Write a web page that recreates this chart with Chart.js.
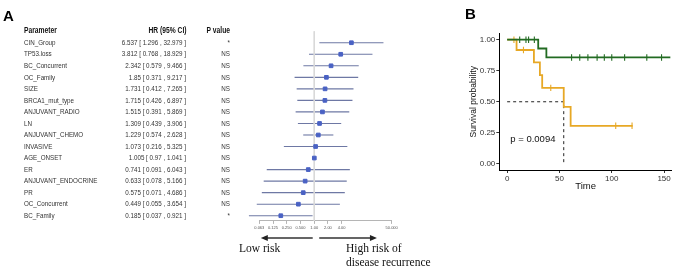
<!DOCTYPE html>
<html>
<head>
<meta charset="utf-8">
<script src="https://cdn.jsdelivr.net/npm/chart.js@4.4.0/dist/chart.umd.min.js"></script>
<style>
html, body { margin:0; padding:0; background:#fff; }
#wrap { position:relative; width:677px; height:267px; overflow:hidden; background:#fff; }
#forest { position:absolute; left:0; top:0; }
#km { position:absolute; left:462px; top:0; }
</style>
</head>
<body>
<div id="wrap">
<canvas id="forest" width="462" height="267"></canvas>
<canvas id="km" width="215" height="267"></canvas>
</div>
<script>
// Panel A - forest plot data
const params = ['CIN_Group', 'TP53.loss', 'BC_Concurrent', 'OC_Family', 'SIZE', 'BRCA1_mut_type', 'ANJUVANT_RADIO', 'LN',
    'ANJUVANT_CHEMO', 'INVASIVE', 'AGE_ONSET', 'ER', 'ANJUVANT_ENDOCRINE', 'PR', 'OC_Concurrent', 'BC_Family'];
const hr = [6.537, 3.812, 2.342, 1.85, 1.731, 1.715, 1.515, 1.309, 1.229, 1.073, 1.005, 0.741, 0.633, 0.575, 0.449, 0.185];
const ciLow = [1.296, 0.768, 0.579, 0.371, 0.412, 0.426, 0.391, 0.439, 0.574, 0.216, 0.97, 0.091, 0.078, 0.071, 0.055, 0.037];
const ciHigh = [32.979, 18.929, 9.466, 9.217, 7.265, 6.897, 5.869, 3.906, 2.628, 5.325, 1.041, 6.043, 5.166, 4.686, 3.654, 0.921];
const pLabels = ['*', 'NS', 'NS', 'NS', 'NS', 'NS', 'NS', 'NS', 'NS', 'NS', 'NS', 'NS', 'NS', 'NS', 'NS', '*'];
const hrTicks = [0.0625, 0.125, 0.25, 0.5, 1, 2, 4, 50];
const hrTickLabels = ['0.063', '0.125', '0.250', '0.500', '1.00', '2.00', '4.00', '50.000'];

// Panel B - Kaplan-Meier data
const greenTime = [0, 29.7, 37.5, 156];
const greenSurv = [1, 0.929, 0.857, 0.857];
const greenCensorTime = [12, 18, 20.5, 26, 61.6, 69.4, 77.2, 86, 92.9, 100, 112.3, 133.5, 147.6];
const greenCensorSurv = [1, 1, 1, 1, 0.857, 0.857, 0.857, 0.857, 0.857, 0.857, 0.857, 0.857, 0.857];
const orangeTime = [0, 9, 25.6, 31.3, 33.5, 54.1, 60.7, 120];
const orangeSurv = [1, 0.917, 0.817, 0.714, 0.612, 0.459, 0.306, 0.306];
const orangeCensorTime = [6.5, 15.6, 41.7, 103.8, 119.4];
const orangeCensorSurv = [1, 0.917, 0.612, 0.306, 0.306];
const medianTime = 54.1;
const timeTicks = [0, 50, 100, 150];
const survTicks = [0, 0.25, 0.5, 0.75, 1];
const pValueText = 'p = 0.0094';

const log2 = v => Math.log(v) / Math.LN2;

//Forest plot datasets: reference line, CI segments, HR squares
let forestSets = [];
forestSets.push({
    data: [{x: 0, y: -0.1}, {x: 0, y: 16.45}],
    showLine: true, borderColor: '#d9d9d9', borderWidth: 1, pointRadius: 0
});
params.forEach((p, i) => {
    forestSets.push({
        data: [{x: log2(ciLow[i]), y: i + 1}, {x: log2(ciHigh[i]), y: i + 1}],
        showLine: true, borderColor: '#6e78a4', borderWidth: 1.1, pointRadius: 0, clip: false
    });
});
forestSets.unshift({
    data: hr.map((v, i) => ({x: log2(v), y: i + 1})),
    pointStyle: 'rect', pointRadius: 2.6, backgroundColor: '#4a62c4', borderColor: '#4a62c4', clip: false
});

function squishText(ctx, text, x, y, align, font, color) {
    ctx.save();
    ctx.translate(x, y);
    ctx.scale(0.78, 1);
    ctx.font = font;
    ctx.fillStyle = color;
    ctx.textAlign = align;
    ctx.textBaseline = 'middle';
    ctx.fillText(text, 0, 0);
    ctx.restore();
}

const forestText = {
    id: 'forestText',
    afterDraw(chart) {
        const ctx = chart.ctx;
        const ys = chart.scales.y;
        const xs = chart.scales.x;
        ctx.save();
        ctx.fillStyle = '#000';
        ctx.font = 'bold 15px "Liberation Sans"';
        ctx.textBaseline = 'alphabetic';
        ctx.fillText('A', 3, 21);

        const hf = 'bold 8.6px "Liberation Sans"';
        const y0 = ys.getPixelForValue(0) - 1;
        squishText(ctx, 'Parameter', 24, y0, 'left', hf, '#111');
        squishText(ctx, 'HR (95% CI)', 186.5, y0, 'right', hf, '#111');
        squishText(ctx, 'P value', 230, y0, 'right', hf, '#111');

        const bf = '8px "Liberation Sans"';
        params.forEach((p, i) => {
            const y = ys.getPixelForValue(i + 1);
            squishText(ctx, p, 24, y, 'left', bf, '#333');
            squishText(ctx, hr[i] + ' [ ' + ciLow[i] + ' , ' + ciHigh[i] + ' ]', 186, y, 'right', bf, '#333');
            squishText(ctx, pLabels[i], 230, y, 'right', bf, '#333');
        });

        // risk arrows
        const ay = 238;
        const x1 = xs.getPixelForValue(0);
        ctx.strokeStyle = '#333';
        ctx.fillStyle = '#222';
        ctx.lineWidth = 1.4;
        ctx.beginPath();
        ctx.moveTo(x1 - 1.5, ay);
        ctx.lineTo(xs.getPixelForValue(-4) + 6, ay);
        ctx.moveTo(x1 + 5, ay);
        ctx.lineTo(xs.getPixelForValue(4.57) - 6, ay);
        ctx.stroke();
        let lx = xs.getPixelForValue(-4) + 1.5;
        ctx.beginPath();
        ctx.moveTo(lx, ay); ctx.lineTo(lx + 7, ay - 3); ctx.lineTo(lx + 7, ay + 3); ctx.closePath(); ctx.fill();
        let rx = xs.getPixelForValue(4.57);
        ctx.beginPath();
        ctx.moveTo(rx, ay); ctx.lineTo(rx - 7, ay - 3); ctx.lineTo(rx - 7, ay + 3); ctx.closePath(); ctx.fill();

        ctx.fillStyle = '#111';
        ctx.font = '11.5px "Liberation Serif"';
        ctx.textAlign = 'left';
        ctx.fillText('Low risk', 239, 252);
        ctx.fillText('High risk of', 346, 252);
        ctx.fillText('disease recurrence', 346, 266);
        ctx.restore();
    }
};

new Chart(document.getElementById('forest').getContext('2d'), {
    type: 'scatter',
    data: {datasets: forestSets},
    options: {
        responsive: false,
        devicePixelRatio: 1,
        animation: false,
        layout: {padding: {left: 259.3, right: 462 - 391.7, top: 31.2, bottom: 267 - 220.9 - 14}},
        plugins: {legend: {display: false}, tooltip: {enabled: false}},
        scales: {
            x: {
                type: 'linear', min: log2(hrTicks[0]), max: log2(hrTicks[hrTicks.length - 1]),
                afterBuildTicks: s => { s.ticks = hrTicks.map(v => ({value: log2(v)})); },
                afterFit: s => { s.height = 14; },
                border: {color: '#b5b5b5', width: 1},
                grid: {drawOnChartArea: false, tickLength: 3, color: '#b5b5b5'},
                ticks: {
                    autoSkip: false, maxRotation: 0, padding: 2,
                    font: {size: 4, family: 'Liberation Sans'}, color: '#555',
                    callback: (v, i) => hrTickLabels[i]
                }
            },
            y: {type: 'linear', reverse: true, min: 0, max: 16.45, display: false}
        }
    },
    plugins: [forestText]
});

//Kaplan-Meier panel
const kmText = {
    id: 'kmText',
    afterDraw(chart) {
        const ctx = chart.ctx;
        ctx.save();
        ctx.fillStyle = '#000';
        ctx.font = 'bold 15px "Liberation Sans"';
        ctx.fillText('B', 3, 19);
        ctx.fillStyle = '#111';
        ctx.font = '9.5px "Liberation Sans"';
        ctx.textBaseline = 'middle';
        ctx.fillText(pValueText, chart.scales.x.getPixelForValue(3), chart.scales.y.getPixelForValue(0.195));
        ctx.restore();
    }
};

const green = '#226b22';
const orange = '#e7a825';

new Chart(document.getElementById('km').getContext('2d'), {
    type: 'scatter',
    data: {
        datasets: [
            {
                data: greenCensorTime.map((t, i) => ({x: t, y: greenCensorSurv[i]})),
                pointStyle: 'line', rotation: 90, pointRadius: 3.2, borderColor: green, borderWidth: 1.1
            },
            {
                data: greenTime.map((t, i) => ({x: t, y: greenSurv[i]})),
                showLine: true, stepped: true, borderColor: green, borderWidth: 1.8, pointRadius: 0
            },
            {
                data: orangeCensorTime.map((t, i) => ({x: t, y: orangeCensorSurv[i]})),
                pointStyle: 'line', rotation: 90, pointRadius: 3.2, borderColor: orange, borderWidth: 1.1
            },
            {
                data: orangeTime.map((t, i) => ({x: t, y: orangeSurv[i]})),
                showLine: true, stepped: true, borderColor: orange, borderWidth: 1.8, pointRadius: 0
            },
            {
                data: [{x: 0, y: 0.5}, {x: medianTime, y: 0.5}, {x: medianTime, y: 0}],
                showLine: true, borderColor: '#222', borderWidth: 1, borderDash: [3, 3], pointRadius: 0
            }
        ]
    },
    options: {
        responsive: false,
        devicePixelRatio: 1,
        animation: false,
        layout: {padding: {left: 0, right: 4, top: 33.5, bottom: 71}},
        plugins: {legend: {display: false}, tooltip: {enabled: false}},
        scales: {
            x: {
                type: 'linear', min: -7.5, max: 157.5,
                afterBuildTicks: s => { s.ticks = timeTicks.map(v => ({value: v})); },
                afterFit: s => { s.height = 26; },
                border: {color: '#000', width: 1},
                grid: {drawOnChartArea: false, tickLength: 3, color: '#333'},
                ticks: {padding: 1, font: {size: 8, family: 'Liberation Sans'}, color: '#333'},
                title: {display: true, text: 'Time', font: {size: 9.5, family: 'Liberation Sans'}, color: '#111', padding: {top: 0, bottom: 4}}
            },
            y: {
                type: 'linear', min: -0.05, max: 1.05,
                afterBuildTicks: s => { s.ticks = survTicks.map(v => ({value: v})); },
                afterFit: s => { s.width = 37.3; },
                border: {color: '#000', width: 1},
                grid: {drawOnChartArea: false, tickLength: 3, color: '#333'},
                ticks: {padding: 1, font: {size: 8, family: 'Liberation Sans'}, color: '#333', callback: v => v.toFixed(2)},
                title: {display: true, text: 'Survival probability', font: {size: 8.5, family: 'Liberation Sans'}, color: '#111', padding: {top: 7, bottom: 0}}
            }
        }
    },
    plugins: [kmText]
});
</script>
</body>
</html>
